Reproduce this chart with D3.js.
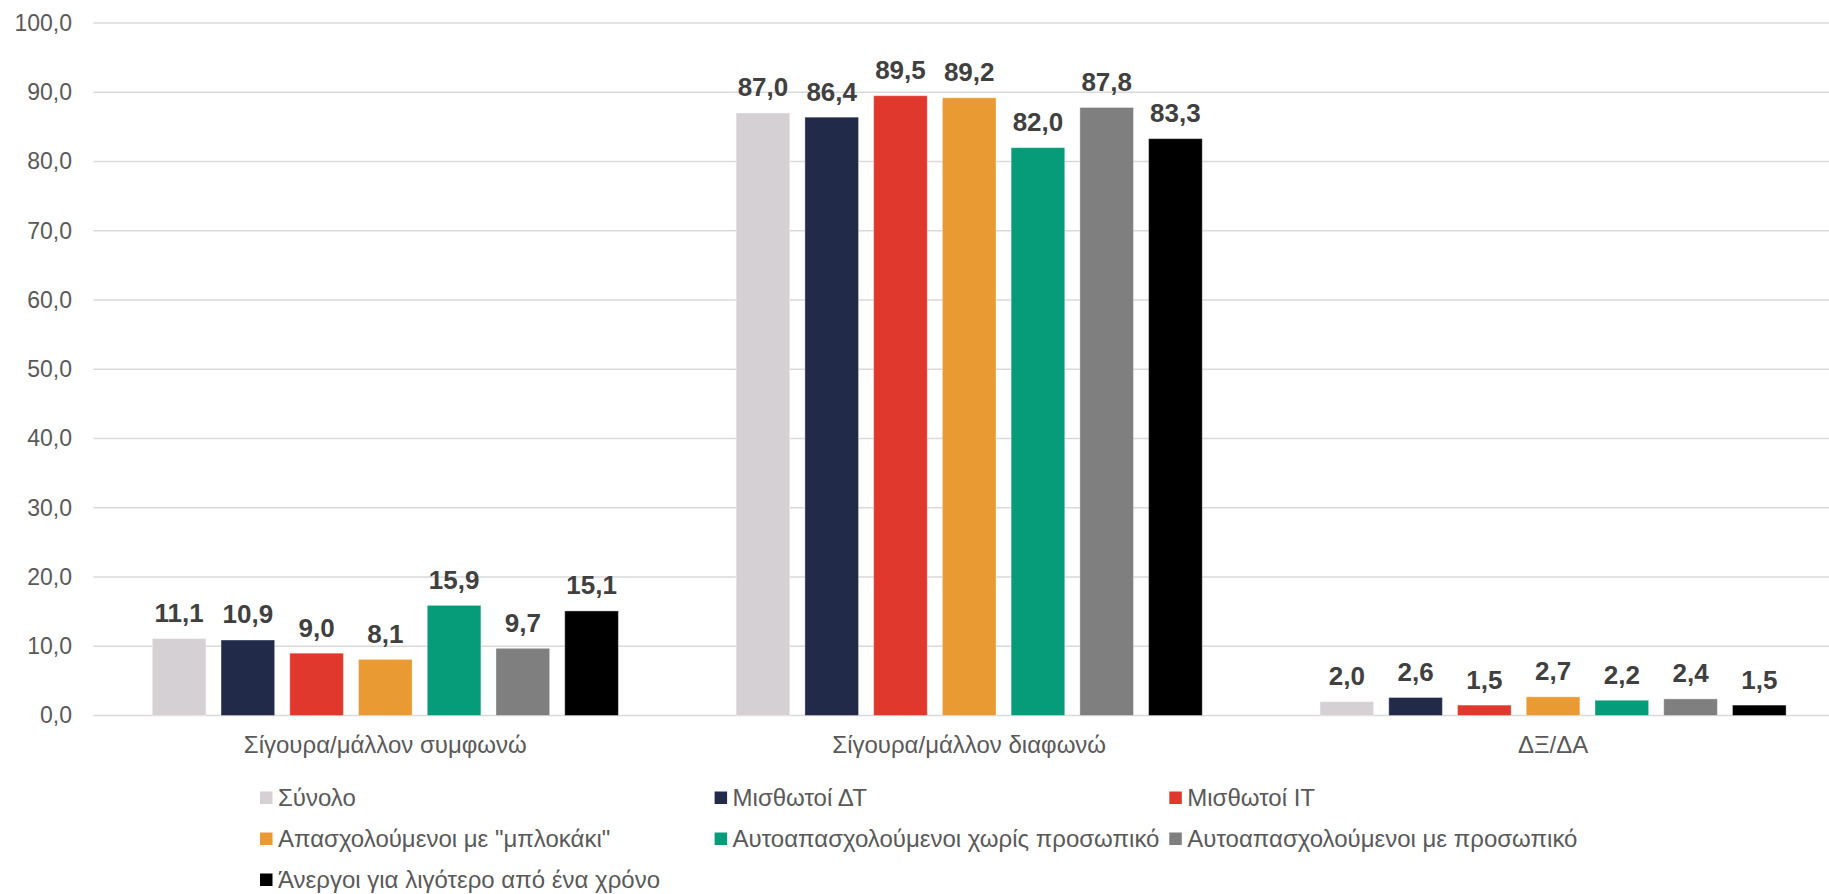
<!DOCTYPE html>
<html>
<head>
<meta charset="utf-8">
<script src="https://cdn.jsdelivr.net/npm/d3@7"></script>
<style>
  html, body { margin: 0; padding: 0; background: #fff; }
  svg { display: block; font-family: "Liberation Sans", Arial, sans-serif; }
</style>
</head>
<body>
<svg id="chart" width="1829" height="894"></svg>
<script>
// ---- data ----
const categories = ["Σίγουρα/μάλλον συμφωνώ", "Σίγουρα/μάλλον διαφωνώ", "ΔΞ/ΔΑ"];
const seriesNames = [
  "Σύνολο",
  "Μισθωτοί ΔΤ",
  "Μισθωτοί ΙΤ",
  "Απασχολούμενοι με \"μπλοκάκι\"",
  "Αυτοαπασχολούμενοι χωρίς προσωπικό",
  "Αυτοαπασχολούμενοι με προσωπικό",
  "Άνεργοι για λιγότερο από ένα χρόνο"
];
const synolo        = [11.1, 87.0, 2.0];
const misthotoiDT   = [10.9, 86.4, 2.6];
const misthotoiIT   = [9.0, 89.5, 1.5];
const mplokaki      = [8.1, 89.2, 2.7];
const autoXoris     = [15.9, 82.0, 2.2];
const autoMe        = [9.7, 87.8, 2.4];
const anergoi       = [15.1, 83.3, 1.5];
const yTicks = [0, 10, 20, 30, 40, 50, 60, 70, 80, 90, 100];
const colors = ["#D5D0D3", "#222A49", "#E0382C", "#EA9A32", "#069B79", "#7F7F7F", "#000000"];

const seriesValues = [synolo, misthotoiDT, misthotoiIT, mplokaki, autoXoris, autoMe, anergoi];

// ---- layout ----
const svg = d3.select("#chart");
const plotLeft = 93.4, plotRight = 1845, plotTop = 23, plotBottom = 715.5;
const fmt = v => d3.format(".1f")(v).replace(".", ",");

const y = d3.scaleLinear().domain([0, 100]).range([plotBottom, plotTop]);
const x0 = d3.scaleBand().domain(categories).range([plotLeft, plotRight]).paddingInner(0).paddingOuter(0);
const groupPad = 58.9;
const x1 = d3.scaleBand().domain(seriesNames)
  .range([groupPad, x0.bandwidth() - groupPad]).paddingInner(0.22).paddingOuter(0);

// gridlines
svg.append("g").selectAll("line").data(yTicks).join("line")
  .attr("x1", plotLeft).attr("x2", plotRight)
  .attr("y1", d => y(d)).attr("y2", d => y(d))
  .attr("stroke", "#D9D9D9").attr("stroke-width", 1.5);

// y axis labels
const yAxis = d3.axisLeft(y).tickValues(yTicks).tickFormat(fmt).tickSize(0).tickPadding(0);
const yg = svg.append("g").attr("transform", `translate(72,0)`).call(yAxis);
yg.select(".domain").remove();
yg.selectAll("text").attr("font-size", 23).attr("fill", "#595959")
  .attr("font-family", "Liberation Sans, Arial, sans-serif");

// bars
const groups = svg.append("g").selectAll("g").data(categories).join("g")
  .attr("transform", d => `translate(${x0(d)},0)`);

groups.each(function(cat, ci) {
  const g = d3.select(this);
  const rows = seriesNames.map((s, si) => ({ s, si, v: seriesValues[si][ci] }));
  g.selectAll("rect").data(rows).join("rect")
    .attr("x", d => x1(d.s))
    .attr("width", x1.bandwidth())
    .attr("y", d => y(d.v))
    .attr("height", d => y(0) - y(d.v))
    .attr("fill", d => colors[d.si])
    .attr("stroke", "#ffffff").attr("stroke-opacity", 0.35).attr("stroke-width", 1);
  g.selectAll("text").data(rows).join("text")
    .attr("x", d => x1(d.s) + x1.bandwidth() / 2)
    .attr("y", d => y(d.v) - 16.6)
    .attr("text-anchor", "middle")
    .attr("font-size", 26).attr("font-weight", "bold").attr("fill", "#404040")
    .text(d => fmt(d.v));
});

// x axis category labels
const xAxis = d3.axisBottom(x0).tickSize(0).tickPadding(0);
const xg = svg.append("g").attr("transform", `translate(0,${plotBottom})`).call(xAxis);
xg.select(".domain").remove();
xg.selectAll("text").attr("font-size", 24).attr("fill", "#595959")
  .attr("font-family", "Liberation Sans, Arial, sans-serif")
  .attr("dy", null).attr("y", 37.8);

// legend
const legendCols = [260, 714.6, 1169.3];
const legendRows = [798, 839, 880];
const lg = svg.append("g").selectAll("g").data(seriesNames).join("g")
  .attr("transform", (d, i) => `translate(${legendCols[i % 3]},${legendRows[Math.floor(i / 3)]})`);
lg.append("rect").attr("x", 0).attr("y", -6.5).attr("width", 12.5).attr("height", 12.5)
  .attr("fill", (d, i) => colors[i]);
lg.append("text").attr("x", 18).attr("y", 0).attr("dy", "0.35em")
  .attr("font-size", 24).attr("fill", "#595959").text(d => d);
</script>
</body>
</html>
